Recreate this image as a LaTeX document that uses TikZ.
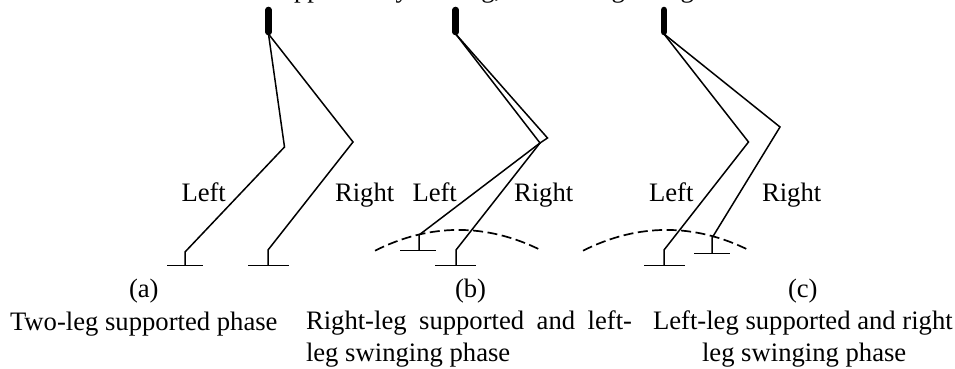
\documentclass[tikz,border=0pt]{standalone}
\usepackage{fontspec}
\setmainfont{Liberation Serif}
\tikzset{
  bar/.style={line width=6.6pt,line cap=round},
  leg/.style={line width=1.5pt,line join=miter},
  foot/.style={line width=1.2pt},
  arc path/.style={line width=1.7pt,dash pattern=on 10pt off 4.5pt},
  txt/.style={anchor=base west,inner sep=0pt,outer sep=0pt,font=\fontsize{26.65}{30}\selectfont},
}
\begin{document}
\begin{tikzpicture}[x=1pt,y=-1pt]
\useasboundingbox (0,0) rectangle (955,369);
% panel (a)
\coordinate (aT) at (268.5,10);
\coordinate (aH) at (268.5,32);
\coordinate (aLK) at (284.5,147);
\coordinate (aLA) at (185,252);
\coordinate (aLF) at (185,265.3);
\coordinate (aLF1) at (167,265.3);
\coordinate (aLF2) at (202.5,265.3);
\coordinate (aRK) at (353,142);
\coordinate (aRA) at (268,250);
\coordinate (aRF) at (268,265.3);
\coordinate (aRF1) at (248,265.3);
\coordinate (aRF2) at (289,265.3);
\draw[bar] (aT) -- (aH);
\draw[leg] (aH) ++(0,2) -- (aLK) -- (aLA) -- (aLF);
\draw[leg] (aH) ++(0,2) -- (aRK) -- (aRA) -- (aRF);
\draw[foot] (aLF1) -- (aLF2);
\draw[foot] (aRF1) -- (aRF2);
% panel (b)
\coordinate (bT) at (455.7,10);
\coordinate (bH) at (455.7,32);
\coordinate (bLK) at (540,143);
\coordinate (bRK) at (547.5,138);
\coordinate (bLA) at (419,235);
\coordinate (bLF) at (419,250.5);
\coordinate (bLF1) at (400,250.5);
\coordinate (bLF2) at (436,250.5);
\coordinate (bRA) at (456,250);
\coordinate (bRF) at (456,265.3);
\coordinate (bRF1) at (435,265.3);
\coordinate (bRF2) at (476,265.3);
\coordinate (bA1) at (375,250.7);
\coordinate (bA2) at (542,250.7);
\draw[bar] (bT) -- (bH);
\draw[leg] (bH) ++(0,2) -- (bLK) -- (bLA) -- (bLF);
\draw[leg] (bH) ++(0,2) -- (bRK) -- (bLK) -- (bRA) -- (bRF);
\draw[foot] (bLF1) -- (bLF2);
\draw[foot] (bRF1) -- (bRF2);
\draw[arc path] (bA1) .. controls (430,223) and (487,223) .. (bA2);
% panel (c)
\coordinate (cT) at (664,10);
\coordinate (cH) at (664,32);
\coordinate (cLK) at (748.5,142);
\coordinate (cRK) at (780,127);
\coordinate (cLA) at (664,250);
\coordinate (cLF) at (664,265.3);
\coordinate (cLF1) at (644,265.3);
\coordinate (cLF2) at (685,265.3);
\coordinate (cRA) at (712,238);
\coordinate (cRF) at (712,253.7);
\coordinate (cRF1) at (694,253.7);
\coordinate (cRF2) at (730,253.7);
\coordinate (cA1) at (583,250.7);
\coordinate (cA2) at (750,250.7);
\draw[bar] (cT) -- (cH);
\draw[leg] (cH) ++(0,2) -- (cLK) -- (cLA) -- (cLF);
\draw[leg] (cH) ++(0,2) -- (cRK) -- (cRA) -- (cRF);
\draw[foot] (cLF1) -- (cLF2);
\draw[foot] (cRF1) -- (cRF2);
\draw[arc path] (cA1) .. controls (638,223) and (695,223) .. (cA2);
% labels
\node[txt] (top) at (266,-2) {Supported by a string, and the legs hang};
\node[txt] (la) at (181.5,201.7) {Left};
\node[txt] (ra) at (335,201.7) {Right};
\node[txt] (lb) at (412.5,201.7) {Left};
\node[txt] (rb) at (514,201.7) {Right};
\node[txt] (lc) at (649,201.7) {Left};
\node[txt] (rc) at (762,201.7) {Right};
\node[txt] (pa) at (129,297) {(a)};
\node[txt] (pb) at (455,297) {(b)};
\node[txt] (pc) at (788,297) {(c)};
\node[txt] (ca) at (10,330.7) {Two-leg supported phase};
\node[txt] (cb1) at (306,329) {\makebox[326pt][s]{Right-leg supported and left-}};
\node[txt] (cb2) at (306,361) {leg swinging phase};
\node[txt] (cc1) at (653,329) {Left-leg supported and right};
\node[txt] (cc2) at (702,361) {leg swinging phase};
\end{tikzpicture}
\end{document}
